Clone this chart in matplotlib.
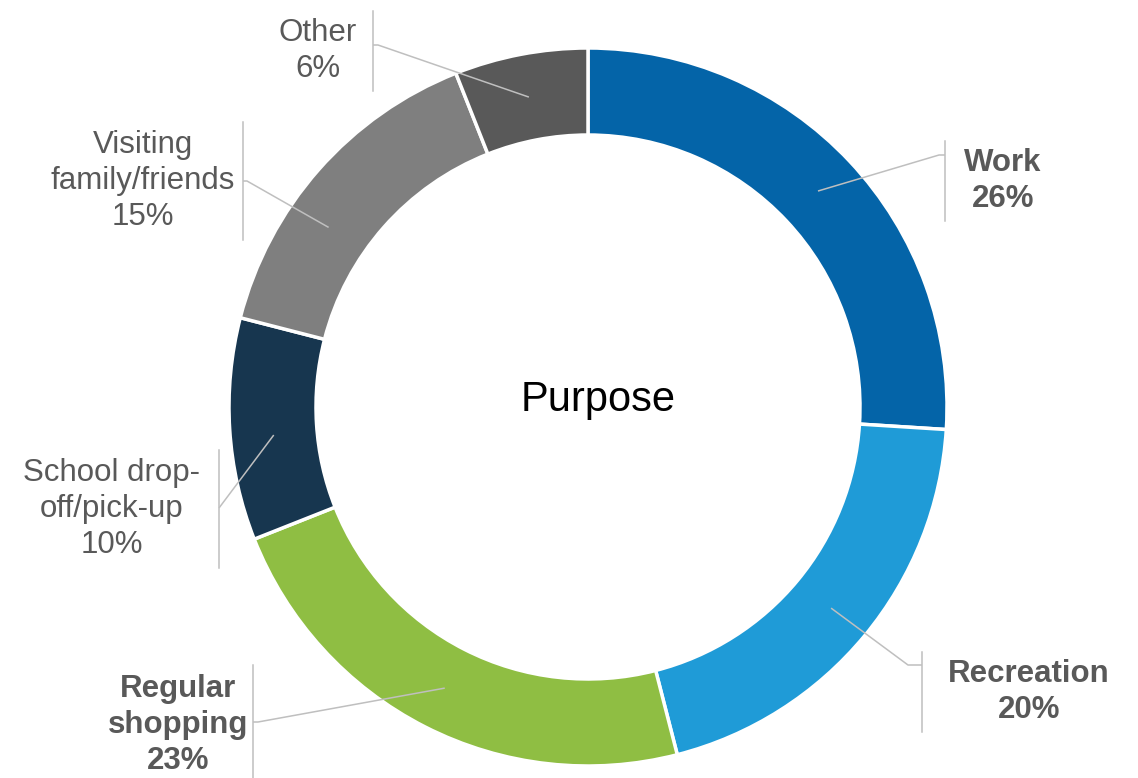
"""Donut chart of trip purpose shares."""

import numpy as np

import matplotlib
matplotlib.use("Agg")
import matplotlib.pyplot as plt

plt.rcParams["font.family"] = ["Liberation Sans", "DejaVu Sans"]

# Trip purpose shares (%)
purposes = ["Work", "Recreation", "Regular\nshopping", "School drop-\noff/pick-up",
            "Visiting\nfamily/friends", "Other"]
shares = [26, 20, 23, 10, 15, 6]
bold = [True, True, True, False, False, False]

colors = ["#0464a8", "#1f9bd7", "#8fbe43", "#17364f", "#7f7f7f", "#595959"]

W, H = 1138, 778
center = (588, H - 407)
r_out, ring = 359, 87

# label layout in pixel space (x, y measured from top): text centre, bar x,
# bar half height, attach side of bar, extra angle for the leader start
label_xy = [(1003, 181), (1029, 692), (178, 725), (112, 509), (143, 181), (318, 51)]
bar_x = [945, 922, 253, 219, 243, 373]
bar_half = [40, 40, 60, 59, 59, 40]
attach_y = [155, 665, 722, 508, 181, 45]
elbow_dx = [-6, -14, 5, 0, 4, 5]
angle_shift = [0, 0, 0, 1.5, 6.7, 0]

fig = plt.figure(figsize=(W / 100, H / 100), dpi=100)
ax = fig.add_axes([0, 0, 1, 1])

wedges, _ = ax.pie(shares, colors=colors, startangle=90, counterclock=False,
                   center=center, radius=r_out,
                   wedgeprops=dict(width=ring, edgecolor="white", linewidth=2.5))
ax.set_xlim(0, W)
ax.set_ylim(0, H)
ax.set_aspect("equal")
ax.axis("off")

line_col = "#bfbfbf"
r_mid = r_out - ring / 2
for i, w in enumerate(wedges):
    ang = np.deg2rad((w.theta1 + w.theta2) / 2 + angle_shift[i])
    x0 = center[0] + r_mid * np.cos(ang)
    y0 = center[1] + r_mid * np.sin(ang)
    bx = bar_x[i]
    ay = H - attach_y[i]
    ax.plot([x0, bx + elbow_dx[i], bx], [y0, ay, ay], color=line_col, lw=1.1,
            solid_capstyle="butt")
    ty = H - label_xy[i][1]
    ax.plot([bx, bx], [ty - bar_half[i], ty + bar_half[i]], color=line_col, lw=1.1)
    ax.text(label_xy[i][0], ty, f"{purposes[i]}\n{shares[i]}%", ha="center",
            va="center", fontsize=22.5, color="#595959", linespacing=1.28,
            fontweight="bold" if bold[i] else "normal")

ax.text(598, H - 400, "Purpose", ha="center", va="center", fontsize=30,
        color="black")

fig.savefig("out.png", dpi=100)
plt.close(fig)
